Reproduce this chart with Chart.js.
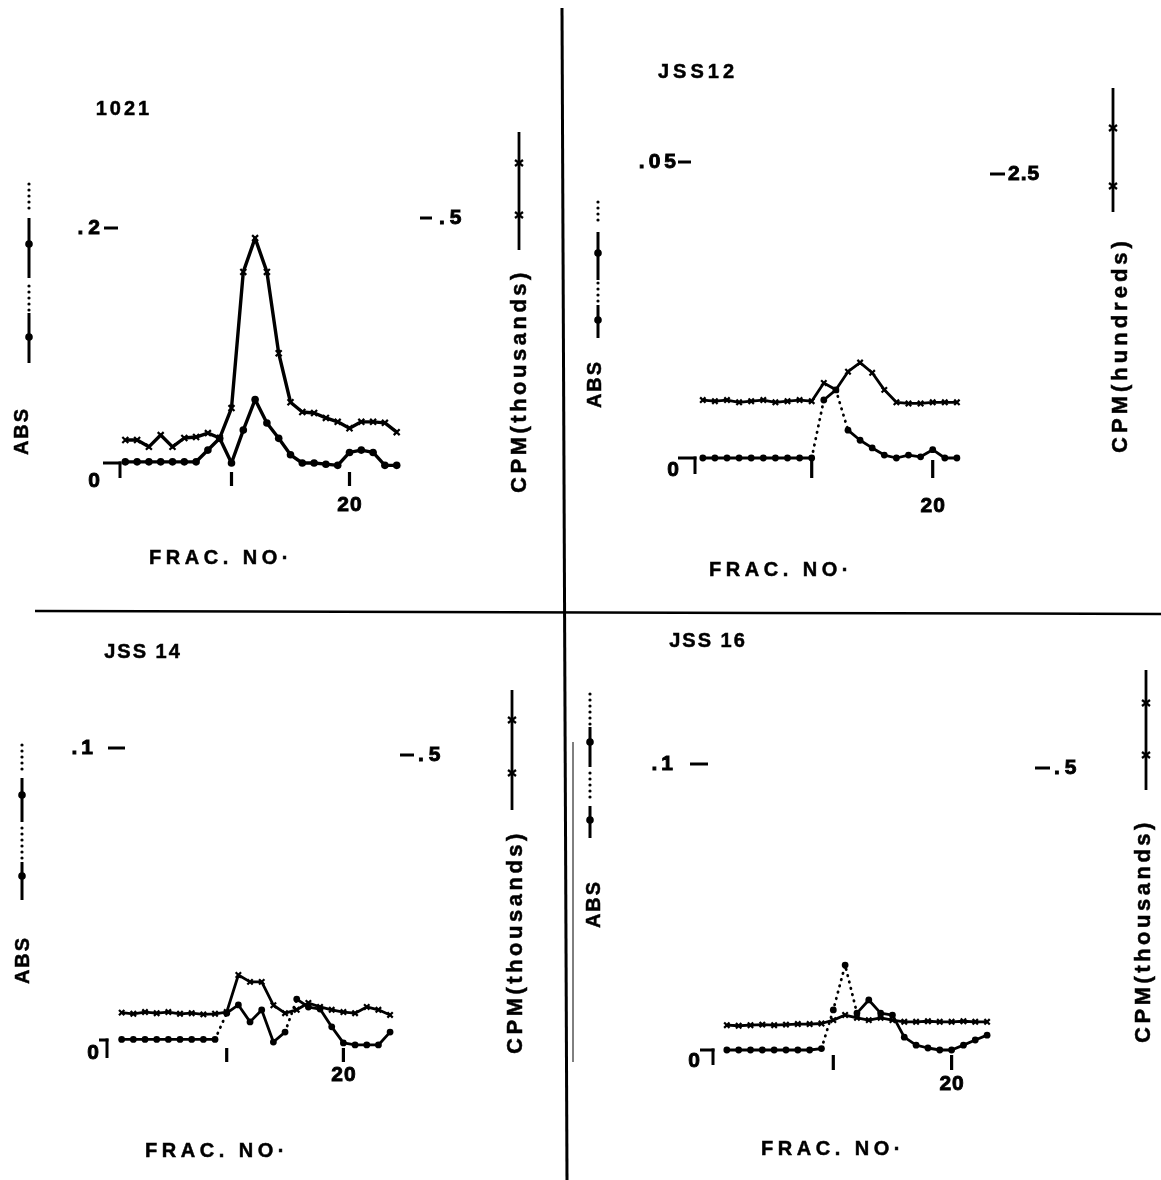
<!DOCTYPE html>
<html>
<head>
<meta charset="utf-8">
<script src="https://cdn.jsdelivr.net/npm/chart.js@4/dist/chart.umd.min.js"></script>
<style>
  html,body{margin:0;padding:0;background:#fff;}
  #wrap{position:relative;width:1161px;height:1180px;overflow:hidden;background:#fff;}
  canvas{position:absolute;}
  .t{position:absolute;font-family:"Liberation Sans",Arial,sans-serif;font-weight:bold;color:#000;white-space:nowrap;transform:translate(-50%,-50%);line-height:1;-webkit-text-stroke:0.5px #000;}
  .r{transform:translate(-50%,-50%) rotate(-90deg);}
  svg{position:absolute;left:0;top:0;}
</style>
</head>
<body>
<div id="wrap">
  <canvas id="c1" width="563" height="612" style="left:0;top:0"></canvas>
  <canvas id="c2" width="598" height="612" style="left:563px;top:0"></canvas>
  <canvas id="c3" width="563" height="568" style="left:0;top:612px"></canvas>
  <canvas id="c4" width="598" height="568" style="left:563px;top:612px"></canvas>

  <svg width="1161" height="1180">
    <line x1="562" y1="8" x2="567" y2="1180" stroke="#000" stroke-width="3"/>
    <line x1="35" y1="611" x2="1161" y2="614" stroke="#000" stroke-width="2.5"/>
    <line x1="573" y1="742" x2="573" y2="1062" stroke="#000" stroke-width="1"/>
  </svg>

  <!-- panel titles -->
  <div class="t" style="left:124px;top:108px;font-size:20px;letter-spacing:3px">1021</div>
  <div class="t" style="left:698px;top:71px;font-size:20px;letter-spacing:4px">JSS12</div>
  <div class="t" style="left:143px;top:651px;font-size:20px;letter-spacing:2px">JSS 14</div>
  <div class="t" style="left:708px;top:640px;font-size:20px;letter-spacing:2px">JSS 16</div>

  <!-- x axis titles -->
  <div class="t" style="left:221px;top:557px;font-size:20px;letter-spacing:4.5px">FRAC. NO·</div>
  <div class="t" style="left:781px;top:569px;font-size:20px;letter-spacing:4.5px">FRAC. NO·</div>
  <div class="t" style="left:217px;top:1150px;font-size:20px;letter-spacing:4.5px">FRAC. NO·</div>
  <div class="t" style="left:833px;top:1148px;font-size:20px;letter-spacing:4.5px">FRAC. NO·</div>

  <!-- ABS titles -->
  <div class="t r" style="left:21px;top:431px;font-size:20px;letter-spacing:2px">ABS</div>
  <div class="t r" style="left:594px;top:384px;font-size:20px;letter-spacing:2px">ABS</div>
  <div class="t r" style="left:22px;top:960px;font-size:20px;letter-spacing:2px">ABS</div>
  <div class="t r" style="left:593px;top:904px;font-size:20px;letter-spacing:2px">ABS</div>

  <!-- CPM titles -->
  <div class="t r" style="left:519px;top:381px;font-size:22px;letter-spacing:3.5px">CPM(thousands)</div>
  <div class="t r" style="left:1120px;top:345px;font-size:22px;letter-spacing:4px">CPM(hundreds)</div>
  <div class="t r" style="left:515px;top:942px;font-size:22px;letter-spacing:3.5px">CPM(thousands)</div>
  <div class="t r" style="left:1143px;top:931px;font-size:22px;letter-spacing:3.5px">CPM(thousands)</div>
</div>

<script>
// ---------------- DATA ----------------
const frac1021 = [1,2,3,4,5,6,7,8,9,10,11,12,13,14,15,16,17,18,19,20,21,22,23,24];
const abs1021  = [0.001,0.001,0.001,0.001,0.001,0.001,0.001,0.011,0.021,0.000,0.028,0.054,0.034,0.021,0.007,0.000,0.000,-0.001,-0.002,0.009,0.011,0.009,-0.002,-0.002];
const cpm1021  = [0.047,0.047,0.033,0.057,0.033,0.051,0.053,0.061,0.051,0.112,0.390,0.459,0.390,0.224,0.124,0.104,0.102,0.092,0.084,0.071,0.084,0.084,0.082,0.063];

const fracJSS12 = [1,2,3,4,5,6,7,8,9,10,11,12,13,14,15,16,17,18,19,20,21,22];
const absJSS12  = [0,0,0,0,0,0,0,0,0,0,0.0098,0.0115,0.0047,0.0030,0.0017,0.0005,0.0000,0.0005,0.0002,0.0014,0,0];
const cpmJSS12  = [0.51,0.50,0.51,0.49,0.50,0.51,0.49,0.50,0.51,0.50,0.66,0.60,0.76,0.84,0.75,0.60,0.49,0.48,0.48,0.49,0.49,0.49];

const fracJSS14 = [1,2,3,4,5,6,7,8,9,10,11,12,13,14,15,16,17,18,19,20,21,22,23,24];
const absJSS14  = [0.0002,0.0002,0.0002,0.0002,0.0002,0.0002,0.0002,0.0002,0.0002,0.0092,0.0120,0.0062,0.0103,-0.0007,0.0027,0.0140,0.0113,0.0106,0.0045,-0.0010,-0.0017,-0.0017,-0.0017,0.0027];
const cpmJSS14  = [0.048,0.046,0.049,0.047,0.049,0.046,0.047,0.045,0.046,0.049,0.114,0.102,0.102,0.061,0.047,0.053,0.065,0.058,0.053,0.049,0.047,0.058,0.053,0.044];

const fracJSS16 = [1,2,3,4,5,6,7,8,9,10,11,12,13,14,15,16,17,18,19,20,21,22,23];
const absJSS16  = [0,0,0,0,0,0,0,0,0.0005,0.0140,0.0297,0.0129,0.0175,0.0129,0.0122,0.0045,0.0017,0.0007,0,0,0.0017,0.0035,0.0052];
const cpmJSS16  = [0.044,0.043,0.044,0.045,0.044,0.045,0.046,0.046,0.047,0.053,0.062,0.057,0.053,0.057,0.053,0.050,0.050,0.051,0.050,0.050,0.051,0.050,0.050];

// tick values and labels
const absTickValues = [0.2, 0.05, 0.1, 0.1];
const absTickLabels = [".2", ".05", ".1", ".1"];
const cpmTickValues = [0.5, 2.5, 0.5, 0.5];
const cpmTickLabels = [".5", "2.5", ".5", ".5"];
const xTickMarks = [10, 20];
const xTickLabel = "20";

// ---------------- LAYOUT (page coordinates) ----------------
function range(zeroPx, tickPx, tickVal, topPx, bottomPx){
  const unit = (zeroPx - tickPx) / tickVal;
  return {min: -(bottomPx - zeroPx) / unit, max: (zeroPx - topPx) / unit};
}

const panels = [
  { id:'c1', ox:0, oy:0, w:563, h:612, frac:frac1021, abs:abs1021, cpm:cpm1021, k:0,
    F0:113.5, d:11.8, L:120, R:445, T:200, B:490, Z:463, absP:228, cpmP:218, lw:3.4, pr:3.8,
    dotted:[],
    absText:100, absSp:5, absDash:[104,118], cpmDash:[420,432], cpmText:439, cpmSp:5,
    brX0:103, brH:15, zeroX:94, zeroDy:18, tk:[9,23], lblDy:42,
    absGlyph:{x:29, dots:[[184,208],[286,311]], solids:[[218,278,244],[313,363,337]]},
    cpmGlyph:{x:519, y0:132, y1:250, marks:[163,215]} },
  { id:'c2', ox:563, oy:0, w:598, h:612, frac:fracJSS12, abs:absJSS12, cpm:cpmJSS12, k:1,
    F0:690.7, d:12.1, L:695, R:990, T:140, B:490, Z:458, absP:162, cpmP:174, lw:2.8, pr:3.4,
    dotted:[10,12],
    absText:676, absSp:4, absDash:[678,691], cpmDash:[990,1005], cpmText:1008, cpmSp:1,
    brX0:678, brH:16, zeroX:673, zeroDy:12, tk:[2,20], lblDy:48,
    absGlyph:{x:598, dots:[[202,222],[283,301]], solids:[[232,280,253],[305,338,320]]},
    cpmGlyph:{x:1113, y0:88, y1:212, marks:[128,186]} },
  { id:'c3', ox:0, oy:612, w:563, h:568, frac:fracJSS14, abs:absJSS14, cpm:cpmJSS14, k:2,
    F0:110, d:11.67, L:107, R:400, T:720, B:1070, Z:1040, absP:748, cpmP:755, lw:2.8, pr:3.4,
    dotted:[9,15],
    absText:93, absSp:4, absDash:[108,125], cpmDash:[400,414], cpmText:418, cpmSp:5,
    brX0:99, brH:18, zeroX:93, zeroDy:13, tk:[8,22], lblDy:35,
    absGlyph:{x:22, dots:[[745,772],[828,858]], solids:[[778,822,795],[862,900,876]]},
    cpmGlyph:{x:512, y0:690, y1:810, marks:[720,773]} },
  { id:'c4', ox:563, oy:612, w:598, h:568, frac:fracJSS16, abs:absJSS16, cpm:cpmJSS16, k:3,
    F0:715, d:11.83, L:713, R:1035, T:740, B:1075, Z:1050, absP:764, cpmP:768, lw:2.8, pr:3.4,
    dotted:[9,10,11],
    absText:673, absSp:4, absDash:[690,708], cpmDash:[1035,1050], cpmText:1054, cpmSp:5,
    brX0:700, brH:15, zeroX:694, zeroDy:11, tk:[5,20], lblDy:34,
    absGlyph:{x:590, dots:[[694,726],[773,798]], solids:[[727,767,742],[806,838,820]]},
    cpmGlyph:{x:1146, y0:670, y1:790, marks:[703,755]} }
];

const FONT = 'bold 21px "Liberation Sans", Arial, sans-serif';

const decoPlugin = {
  id: 'deco',
  afterDatasetsDraw(chart, args, o){
    const p = o.panel;
    const ctx = chart.ctx;
    const xs = chart.scales.x, ya = chart.scales.yA, yc = chart.scales.yC;
    const ox = p.ox, oy = p.oy;
    const yz = ya.getPixelForValue(0);
    const L = chart.chartArea.left;
    function line(x0,y0,x1,y1,w){ctx.beginPath();ctx.lineWidth=w||2.5;ctx.moveTo(x0,y0);ctx.lineTo(x1,y1);ctx.stroke();}
    function text(s,x,y,align,sp){
      sp = sp || 0;
      ctx.textAlign = align;
      ctx.letterSpacing = sp + 'px';
      ctx.lineWidth = 0.9;
      // letterSpacing adds trailing space after the last glyph; compensate
      const xx = align === 'right' ? x + sp : (align === 'center' ? x + sp / 2 : x);
      ctx.fillText(s,xx,y); ctx.strokeText(s,xx,y);
      ctx.letterSpacing = '0px';
    }
    ctx.save();
    ctx.fillStyle = '#000'; ctx.strokeStyle = '#000'; ctx.lineCap = 'butt';
    ctx.font = FONT; ctx.textBaseline = 'middle';
    // ABS tick
    const ay = ya.getPixelForValue(absTickValues[p.k]);
    text(absTickLabels[p.k], p.absText - ox, ay, 'right', p.absSp);
    line(p.absDash[0]-ox, ay, p.absDash[1]-ox, ay, 3);
    // CPM tick
    const cy = yc.getPixelForValue(cpmTickValues[p.k]);
    text(cpmTickLabels[p.k], p.cpmText - ox, cy, 'left', p.cpmSp);
    line(p.cpmDash[0]-ox, cy, p.cpmDash[1]-ox, cy, 3);
    // zero bracket
    line(p.brX0 - ox, yz, L + 1.5, yz, 3);
    line(L, yz - 1.5, L, yz + p.brH, 3);
    text('0', p.zeroX - ox, yz + p.zeroDy, 'center', 0);
    // x tick marks
    xTickMarks.forEach(v => { const px = xs.getPixelForValue(v); line(px, yz + p.tk[0], px, yz + p.tk[1], 3.2); });
    text(xTickLabel, xs.getPixelForValue(20), yz + p.lblDy, 'center', 1);
    // ABS legend glyph
    const g = p.absGlyph, gx = g.x - ox;
    g.dots.forEach(([a,b]) => { for(let y=a; y<=b; y+=6){ ctx.beginPath(); ctx.arc(gx, y-oy, 1.6, 0, Math.PI*2); ctx.fill(); } });
    g.solids.forEach(([a,b,m]) => { line(gx, a-oy, gx, b-oy, 3); ctx.beginPath(); ctx.arc(gx, m-oy, 3.8, 0, Math.PI*2); ctx.fill(); });
    // CPM legend glyph
    const c = p.cpmGlyph, cx = c.x - ox;
    line(cx, c.y0-oy, cx, c.y1-oy, 2.8);
    c.marks.forEach(m => { line(cx-4, m-oy-3, cx+4, m-oy+3, 2.2); line(cx-4, m-oy+3, cx+4, m-oy-3, 2.2); });
    ctx.restore();
  }
};

panels.forEach(p => {
  const yA = range(p.Z, p.absP, absTickValues[p.k], p.T, p.B);
  const yC = range(p.Z, p.cpmP, cpmTickValues[p.k], p.T, p.B);
  const absPts = p.frac.map((f,i) => ({x:f, y:p.abs[i]}));
  const cpmPts = p.frac.map((f,i) => ({x:f, y:p.cpm[i]}));
  const dottedSet = p.dotted;
  new Chart(document.getElementById(p.id), {
    type: 'line',
    data: {
      datasets: [
        { label: 'ABS', data: absPts, yAxisID: 'yA', borderColor:'#000', backgroundColor:'#000',
          borderWidth: p.lw, pointRadius: p.pr, pointStyle: 'circle', pointBackgroundColor:'#000', pointBorderWidth:0,
          tension: 0, clip: false, borderCapStyle: 'round', borderJoinStyle: 'round',
          segment: { borderDash: ctx => dottedSet.includes(ctx.p0DataIndex + 1) ? [0.5, 6] : undefined } },
        { label: 'CPM', data: cpmPts, yAxisID: 'yC', borderColor:'#000', backgroundColor:'#000',
          borderWidth: p.lw, pointRadius: p.pr + 0.4, pointStyle: 'crossRot', pointBorderWidth: 2.2,
          tension: 0, clip: false, borderJoinStyle: 'round' }
      ]
    },
    options: {
      responsive: false, animation: false, devicePixelRatio: 1,
      layout: { padding: { left: p.L - p.ox, right: p.ox + p.w - p.R, top: p.T - p.oy, bottom: p.oy + p.h - p.B } },
      scales: {
        x: { type:'linear', display:false, min:(p.L - p.F0)/p.d, max:(p.R - p.F0)/p.d },
        yA: { type:'linear', display:false, min:yA.min, max:yA.max },
        yC: { type:'linear', display:false, min:yC.min, max:yC.max }
      },
      plugins: { legend:{display:false}, tooltip:{enabled:false}, deco:{ panel:p } }
    },
    plugins: [decoPlugin]
  });
});
</script>
</body>
</html>
